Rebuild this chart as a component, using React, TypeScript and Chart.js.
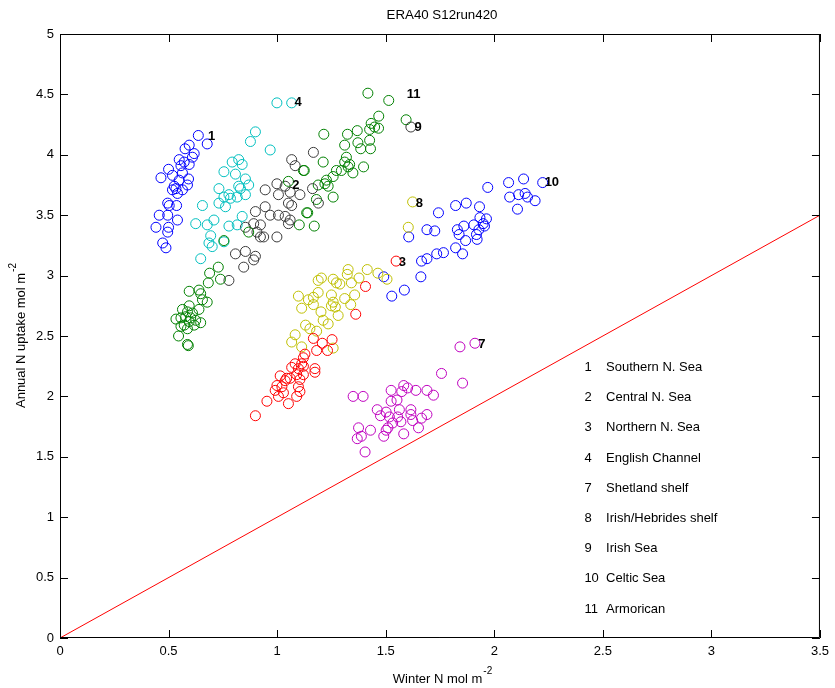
import React, { useEffect, useRef } from 'react';
import { Chart, registerables } from 'chart.js';

Chart.register(...registerables);

const FONT = '"Liberation Sans", Arial, Helvetica, sans-serif';

const TITLE = 'ERA40 S12run420';
const X_TITLE = 'Winter N mol m';
const Y_TITLE = 'Annual N uptake mol m';
const UNIT_EXP = '-2';

const X_MIN = 0;
const X_MAX = 3.5;
const X_STEP = 0.5;
const Y_MIN = 0;
const Y_MAX = 5;
const Y_STEP = 0.5;

// Region 1 Southern N. Sea (blue)
const x1 = [0.637, 0.678, 0.595, 0.576, 0.618, 0.61, 0.549, 0.572, 0.595, 0.557, 0.5, 0.465, 0.518, 0.564, 0.592, 0.549, 0.526, 0.534, 0.518, 0.587, 0.564, 0.541, 0.496, 0.503, 0.537, 0.457, 0.496, 0.541, 0.442, 0.5, 0.496, 0.473, 0.488];
const y1 = [4.16, 4.09, 4.08, 4.05, 4.01, 3.98, 3.96, 3.94, 3.92, 3.91, 3.88, 3.81, 3.83, 3.85, 3.8, 3.79, 3.74, 3.72, 3.71, 3.75, 3.71, 3.68, 3.6, 3.58, 3.58, 3.5, 3.5, 3.46, 3.4, 3.4, 3.36, 3.27, 3.23];

// Region 2 Central N. Sea (green)
const x2 = [0.591, 0.587, 0.546, 0.587, 0.557, 0.572, 0.648, 0.618, 0.595, 0.625, 0.534, 0.557, 0.602, 0.579, 0.61, 0.587, 0.564, 0.64, 0.595, 0.678, 0.656, 0.648, 0.64, 0.595, 0.683, 0.739, 0.689, 0.729, 0.755, 0.869, 1.052];
const y2 = [2.42, 2.43, 2.5, 2.56, 2.58, 2.59, 2.61, 2.59, 2.62, 2.63, 2.64, 2.65, 2.65, 2.66, 2.69, 2.7, 2.72, 2.72, 2.75, 2.78, 2.8, 2.85, 2.88, 2.87, 2.94, 2.97, 3.02, 3.07, 3.29, 3.36, 3.78];

// Region 3 Northern N. Sea (red)
const x3 = [0.9, 1.052, 0.953, 1.09, 1.105, 1.098, 1.006, 1.029, 0.991, 1.022, 0.999, 1.121, 1.09, 1.105, 1.06, 1.037, 1.044, 1.014, 1.174, 1.174, 1.121, 1.098, 1.067, 1.083, 1.113, 1.121, 1.128, 1.232, 1.182, 1.253, 1.208, 1.167, 1.362, 1.407, 1.548];
const y3 = [1.84, 1.94, 1.96, 2.0, 2.04, 2.08, 2.0, 2.03, 2.05, 2.08, 2.09, 2.18, 2.18, 2.14, 2.15, 2.13, 2.15, 2.17, 2.2, 2.23, 2.25, 2.23, 2.24, 2.27, 2.27, 2.32, 2.35, 2.38, 2.38, 2.47, 2.44, 2.48, 2.68, 2.91, 3.12];

// Region 4 English Channel (cyan)
const x4 = [0.648, 0.701, 0.686, 0.694, 0.755, 0.625, 0.678, 0.709, 0.778, 0.816, 0.839, 0.656, 0.732, 0.762, 0.755, 0.785, 0.816, 0.778, 0.854, 0.732, 0.831, 0.823, 0.869, 0.854, 0.808, 0.755, 0.839, 0.793, 0.823, 0.968, 0.877, 0.9, 0.999, 1.067];
const y4 = [3.14, 3.24, 3.27, 3.33, 3.28, 3.43, 3.42, 3.46, 3.41, 3.42, 3.49, 3.58, 3.6, 3.57, 3.65, 3.64, 3.65, 3.67, 3.67, 3.72, 3.72, 3.74, 3.75, 3.8, 3.84, 3.86, 3.92, 3.94, 3.96, 4.04, 4.11, 4.19, 4.43, 4.43];

// Region 7 Shetland shelf (magenta)
const x7 = [1.405, 1.369, 1.388, 1.375, 1.43, 1.491, 1.502, 1.51, 1.583, 1.651, 1.532, 1.57, 1.624, 1.476, 1.517, 1.555, 1.616, 1.665, 1.69, 1.461, 1.502, 1.563, 1.616, 1.35, 1.396, 1.525, 1.552, 1.574, 1.525, 1.583, 1.601, 1.639, 1.69, 1.72, 1.757, 1.854, 1.842, 1.911];
const y7 = [1.54, 1.65, 1.67, 1.74, 1.72, 1.67, 1.72, 1.74, 1.69, 1.74, 1.78, 1.79, 1.8, 1.84, 1.83, 1.83, 1.85, 1.82, 1.85, 1.89, 1.87, 1.89, 1.89, 2.0, 2.0, 1.96, 1.97, 2.04, 2.05, 2.09, 2.07, 2.05, 2.05, 2.01, 2.19, 2.11, 2.41, 2.44];

// Region 8 Irish/Hebrides shelf (yellow)
const x8 = [1.258, 1.113, 1.067, 1.182, 1.083, 1.151, 1.131, 1.235, 1.212, 1.281, 1.202, 1.339, 1.268, 1.25, 1.258, 1.167, 1.113, 1.357, 1.311, 1.25, 1.189, 1.167, 1.144, 1.098, 1.342, 1.289, 1.273, 1.258, 1.204, 1.189, 1.377, 1.323, 1.506, 1.464, 1.415, 1.327, 1.604, 1.624];
const y8 = [2.4, 2.41, 2.45, 2.54, 2.51, 2.56, 2.59, 2.6, 2.63, 2.67, 2.7, 2.76, 2.74, 2.75, 2.78, 2.76, 2.73, 2.84, 2.81, 2.84, 2.86, 2.82, 2.8, 2.83, 2.94, 2.93, 2.94, 2.97, 2.98, 2.96, 2.98, 3.01, 2.97, 3.02, 3.05, 3.05, 3.4, 3.61];

// Region 9 Irish Sea (black)
const x9 = [0.846, 0.892, 0.808, 0.854, 0.9, 0.778, 0.999, 0.938, 0.923, 0.907, 0.854, 0.892, 0.923, 1.052, 1.06, 1.037, 1.006, 0.968, 0.9, 0.945, 1.067, 1.052, 1.105, 1.06, 1.006, 0.945, 1.037, 0.999, 1.19, 1.163, 1.083, 1.067, 1.167, 1.616];
const y9 = [3.07, 3.13, 3.18, 3.2, 3.16, 2.96, 3.32, 3.32, 3.32, 3.36, 3.4, 3.43, 3.42, 3.43, 3.46, 3.49, 3.5, 3.5, 3.53, 3.57, 3.58, 3.6, 3.67, 3.69, 3.67, 3.71, 3.74, 3.76, 3.6, 3.72, 3.91, 3.96, 4.02, 4.23];

// Region 10 Celtic Sea (blue)
const x10 = [1.528, 1.586, 1.491, 1.662, 1.665, 1.69, 1.735, 1.766, 1.606, 1.69, 1.726, 1.822, 1.854, 1.838, 1.868, 1.918, 1.921, 1.929, 1.955, 1.949, 1.964, 1.934, 1.906, 1.86, 1.83, 1.743, 1.822, 1.871, 1.932, 2.107, 2.188, 2.153, 2.142, 2.112, 2.071, 1.97, 2.066, 2.135, 2.223];
const y10 = [2.83, 2.88, 2.99, 2.99, 3.12, 3.14, 3.18, 3.19, 3.32, 3.38, 3.37, 3.23, 3.18, 3.34, 3.29, 3.34, 3.3, 3.38, 3.41, 3.43, 3.47, 3.48, 3.42, 3.41, 3.38, 3.52, 3.58, 3.6, 3.57, 3.55, 3.62, 3.65, 3.68, 3.67, 3.65, 3.73, 3.77, 3.8, 3.77];

// Region 11 Armorican (green)
const x11 = [1.102, 1.171, 1.141, 1.136, 1.181, 1.258, 1.189, 1.235, 1.22, 1.227, 1.258, 1.125, 1.121, 1.212, 1.311, 1.334, 1.327, 1.349, 1.296, 1.273, 1.398, 1.319, 1.385, 1.43, 1.311, 1.372, 1.426, 1.215, 1.324, 1.369, 1.426, 1.467, 1.449, 1.433, 1.468, 1.594, 1.514, 1.418];
const y11 = [3.42, 3.41, 3.52, 3.52, 3.63, 3.65, 3.75, 3.74, 3.76, 3.79, 3.82, 3.87, 3.87, 3.94, 3.94, 3.92, 3.9, 3.85, 3.87, 3.87, 3.9, 3.98, 4.05, 4.05, 4.08, 4.1, 4.12, 4.17, 4.17, 4.2, 4.21, 4.22, 4.23, 4.26, 4.32, 4.29, 4.45, 4.51];

const regionNums = ['1', '2', '3', '4', '7', '8', '9', '10', '11'];
const regionNames = ['Southern N. Sea', 'Central N. Sea', 'Northern N. Sea', 'English Channel', 'Shetland shelf', 'Irish/Hebrides shelf', 'Irish Sea', 'Celtic Sea', 'Armorican'];
const regionX = [x1, x2, x3, x4, x7, x8, x9, x10, x11];
const regionY = [y1, y2, y3, y4, y7, y8, y9, y10, y11];
const regionColors = ['#0000ff', '#008000', '#ff0000', '#00bfbf', '#bf00bf', '#bfbf00', '#3a3a3a', '#0000ff', '#008000'];

// cluster tag positions (data units)
const tagX = [0.682, 1.07, 1.56, 1.08, 1.926, 1.638, 1.633, 2.232, 1.597];
const tagY = [4.15, 3.75, 3.11, 4.43, 2.43, 3.6, 4.23, 3.77, 4.5];

// in-plot legend positions (data units)
const legendNumX = 2.415;
const legendNameX = 2.515;
const legendY = [2.24, 1.99, 1.74, 1.49, 1.24, 0.99, 0.74, 0.49, 0.24];

// 1:1 line
const refLineX = [0, 3.5];
const refLineY = [0, 3.5];

const fmtTick = (v: any) => String(Math.round(Number(v) * 100) / 100);

function drawWithExp(ctx: CanvasRenderingContext2D, main: string, exp: string, cx: number, cy: number) {
  ctx.font = `13px ${FONT}`;
  const w1 = ctx.measureText(main).width;
  ctx.font = `10px ${FONT}`;
  const w2 = ctx.measureText(exp).width;
  const start = cx - (w1 + w2) / 2;
  ctx.textAlign = 'left';
  ctx.textBaseline = 'middle';
  ctx.font = `13px ${FONT}`;
  ctx.fillText(main, start, cy);
  ctx.font = `10px ${FONT}`;
  ctx.fillText(exp, start + w1 + 1, cy - 8);
}

const framePlugin = {
  id: 'matlabFrame',
  afterDraw(chart: any) {
    const { ctx, chartArea } = chart;
    const { left, right, top, bottom } = chartArea;
    const xs = chart.scales.x;
    const ys = chart.scales.y;
    ctx.save();
    ctx.strokeStyle = '#000';
    ctx.lineWidth = 1;
    ctx.beginPath();
    ctx.rect(left + 0.5, top + 0.5, right - left - 1, bottom - top - 1);
    const tick = 8;
    for (let v = X_MIN; v <= X_MAX + 1e-9; v += X_STEP) {
      const px = Math.round(xs.getPixelForValue(v)) + 0.5;
      ctx.moveTo(px, bottom);
      ctx.lineTo(px, bottom - tick);
      ctx.moveTo(px, top);
      ctx.lineTo(px, top + tick);
    }
    for (let v = Y_MIN; v <= Y_MAX + 1e-9; v += Y_STEP) {
      const py = Math.round(ys.getPixelForValue(v)) + 0.5;
      ctx.moveTo(left, py);
      ctx.lineTo(left + tick, py);
      ctx.moveTo(right, py);
      ctx.lineTo(right - tick, py);
    }
    ctx.stroke();

    ctx.fillStyle = '#000';
    // title
    ctx.font = `13.3px ${FONT}`;
    ctx.textAlign = 'center';
    ctx.textBaseline = 'middle';
    ctx.fillText(TITLE, (left + right) / 2 + 2, 15);

    // x title
    drawWithExp(ctx, X_TITLE, UNIT_EXP, (left + right) / 2 + 2, 679);

    // y title
    ctx.save();
    ctx.translate(21, (top + bottom) / 2);
    ctx.rotate(-Math.PI / 2);
    drawWithExp(ctx, Y_TITLE, UNIT_EXP, 0, 0);
    ctx.restore();

    // cluster tags
    ctx.font = `bold 13px ${FONT}`;
    ctx.textAlign = 'left';
    ctx.textBaseline = 'middle';
    regionNums.forEach((n, i) => {
      ctx.fillText(n, xs.getPixelForValue(tagX[i]), ys.getPixelForValue(tagY[i]));
    });

    // legend text
    ctx.font = `13px ${FONT}`;
    regionNums.forEach((n, i) => {
      const py = ys.getPixelForValue(legendY[i]);
      ctx.fillText(n, xs.getPixelForValue(legendNumX), py);
      ctx.fillText(regionNames[i], xs.getPixelForValue(legendNameX), py);
    });
    ctx.restore();
  },
};

export default function App() {
  const ref = useRef<HTMLCanvasElement>(null);
  useEffect(() => {
    const canvas = ref.current;
    if (!canvas) return;
    const datasets: any[] = regionNums.map((n, i) => ({
      type: 'scatter',
      label: `${n} ${regionNames[i]}`,
      data: regionX[i].map((x, j) => ({ x, y: regionY[i][j] })),
      borderColor: regionColors[i],
      backgroundColor: 'rgba(0,0,0,0)',
      pointRadius: 5,
      pointBorderWidth: 1,
      pointStyle: 'circle',
      showLine: false,
    }));
    datasets.push({
      type: 'line',
      label: '1:1',
      data: refLineX.map((x, j) => ({ x, y: refLineY[j] })),
      borderColor: '#ff0000',
      borderWidth: 1,
      pointRadius: 0,
      fill: false,
      tension: 0,
    });
    const chart = new Chart(canvas, {
      type: 'scatter',
      data: { datasets },
      options: {
        responsive: false,
        animation: false,
        devicePixelRatio: 1,
        layout: { padding: { top: 34, right: 10, left: 0, bottom: 0 } },
        plugins: {
          legend: { display: false },
          tooltip: { enabled: false },
          title: { display: false },
        },
        scales: {
          x: {
            type: 'linear',
            min: X_MIN,
            max: X_MAX,
            ticks: { stepSize: X_STEP, color: '#000', font: { family: FONT, size: 13 }, padding: 6, maxRotation: 0, autoSkip: false, callback: fmtTick },
            grid: { display: false, drawTicks: false },
            border: { display: false },
            afterFit: (s: any) => { s.height = 50; },
          },
          y: {
            type: 'linear',
            min: Y_MIN,
            max: Y_MAX,
            ticks: { stepSize: Y_STEP, color: '#000', font: { family: FONT, size: 13 }, padding: 6, autoSkip: false, callback: fmtTick },
            grid: { display: false, drawTicks: false },
            border: { display: false },
            afterFit: (s: any) => { s.width = 60; },
          },
        },
      },
      plugins: [framePlugin],
    } as any);
    return () => chart.destroy();
  }, []);
  return (
    <div style={{ position: 'absolute', left: 0, top: 0, width: 835, height: 688 }}>
      <canvas ref={ref} width={835} height={688} style={{ display: 'block' }} />
    </div>
  );
}
